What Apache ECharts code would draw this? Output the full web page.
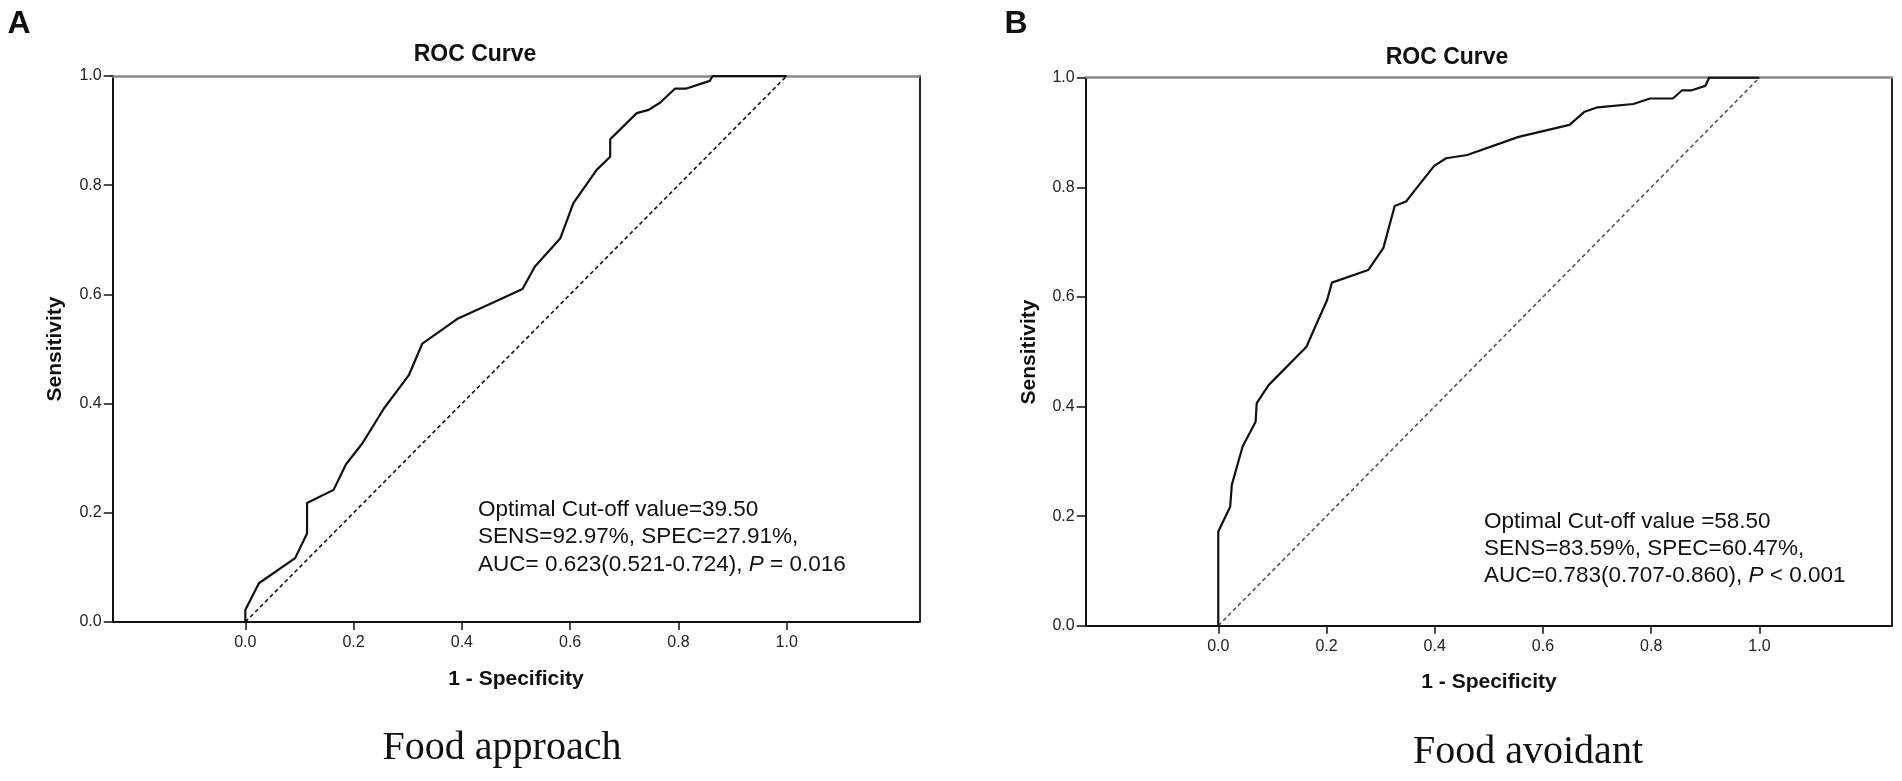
<!DOCTYPE html>
<html>
<head>
<meta charset="utf-8">
<title>ROC Curve</title>
<script src="https://cdn.jsdelivr.net/npm/echarts@6.0.0/dist/echarts.min.js"></script>
<style>
  html, body { margin: 0; padding: 0; background: #fff; }
  #main { width: 1902px; height: 781px; }
</style>
</head>
<body>
<div id="main"></div>
<script>
// A: Food approach (1 - specificity, sensitivity)
var approachFpr = [0, 0, 0.025, 0.092, 0.114, 0.114, 0.163, 0.186, 0.216, 0.256, 0.302, 0.327, 0.393, 0.469, 0.512, 0.535, 0.582, 0.606, 0.649, 0.674, 0.674, 0.723, 0.745, 0.766, 0.794, 0.815, 0.858, 0.863, 1.0];
var approachTpr = [0, 0.022, 0.071, 0.117, 0.162, 0.218, 0.242, 0.289, 0.327, 0.391, 0.452, 0.51, 0.556, 0.59, 0.61, 0.651, 0.703, 0.767, 0.828, 0.852, 0.884, 0.932, 0.938, 0.951, 0.977, 0.977, 0.991, 1.0, 1.0];

// B: Food avoidant
var avoidantFpr = [0, 0, 0.022, 0.025, 0.045, 0.069, 0.071, 0.093, 0.163, 0.182, 0.201, 0.21, 0.277, 0.305, 0.326, 0.347, 0.366, 0.399, 0.421, 0.46, 0.555, 0.649, 0.677, 0.701, 0.767, 0.798, 0.84, 0.857, 0.875, 0.9, 0.907, 1.0];
var avoidantTpr = [0, 0.172, 0.217, 0.257, 0.327, 0.372, 0.406, 0.439, 0.509, 0.552, 0.594, 0.626, 0.649, 0.689, 0.766, 0.774, 0.798, 0.839, 0.853, 0.859, 0.892, 0.914, 0.938, 0.946, 0.952, 0.962, 0.962, 0.977, 0.977, 0.985, 1.0, 1.0];

var referenceLine = [[0, 0], [1, 1]];
var tickValues = [0, 0.2, 0.4, 0.6, 0.8, 1.0];

var annotationA = ['Optimal Cut-off value=39.50', 'SENS=92.97%, SPEC=27.91%,', 'AUC= 0.623(0.521-0.724), {i|P} = 0.016'];
var annotationB = ['Optimal Cut-off value =58.50', 'SENS=83.59%, SPEC=60.47%,', 'AUC=0.783(0.707-0.860), {i|P} < 0.001'];

function zip(xs, ys) {
  return xs.map(function (x, i) { return [x, ys[i]]; });
}

var sans = '"Liberation Sans", Arial, sans-serif';
var serif = '"Liberation Serif", "Times New Roman", serif';
var ink = '#111';

function fmt(v) { return v.toFixed(1); }

function xAxes(g) {
  return [
    {
      type: 'value', gridIndex: g, position: 'bottom', min: -0.245, max: 1.245,
      axisLine: { onZero: false, lineStyle: { color: ink, width: 2 } },
      axisTick: { show: true, customValues: tickValues, length: 8, lineStyle: { color: ink, width: 1.5 } },
      axisLabel: { customValues: tickValues, formatter: fmt, margin: 13, fontSize: 16, fontFamily: sans, color: '#222' },
      splitLine: { show: false }
    },
    {
      type: 'value', gridIndex: g, position: 'top', min: -0.245, max: 1.245,
      axisLine: { onZero: false, lineStyle: { color: '#8a8a8a', width: 2.5 } },
      axisTick: { show: false }, axisLabel: { show: false }, splitLine: { show: false }
    }
  ];
}

function yAxes(g) {
  return [
    {
      type: 'value', gridIndex: g, position: 'left', min: 0, max: 1, interval: 0.2,
      axisLine: { show: true, onZero: false, lineStyle: { color: ink, width: 2 } },
      axisTick: { show: true, length: 9, lineStyle: { color: ink, width: 1.5 } },
      axisLabel: { formatter: fmt, margin: 11, fontSize: 16, fontFamily: sans, color: '#222' },
      splitLine: { show: false }
    },
    {
      type: 'value', gridIndex: g, position: 'right', min: 0, max: 1,
      axisLine: { show: true, onZero: false, lineStyle: { color: '#222', width: 2 } },
      axisTick: { show: false }, axisLabel: { show: false }, splitLine: { show: false }
    }
  ];
}

function text(str, x, y, size, opts) {
  opts = opts || {};
  return {
    type: 'text', x: x, y: y, rotation: opts.rotation || 0, z: 10,
    style: {
      text: str,
      textAlign: opts.align || 'center',
      textVerticalAlign: 'middle',
      fontSize: size,
      fontWeight: opts.weight || 'normal',
      fontFamily: opts.family || sans,
      fill: ink,
      rich: {
        i: { fontSize: size, fontStyle: 'italic', fontFamily: sans, fill: ink }
      }
    }
  };
}

var graphics = [
  text('A', 19, 24, 32, { weight: 'bold' }),
  text('B', 1016, 24, 32, { weight: 'bold' }),
  text('ROC Curve', 475, 55, 23, { weight: 'bold' }),
  text('ROC Curve', 1447, 58, 23, { weight: 'bold' }),
  text('Sensitivity', 55, 349, 21, { weight: 'bold', rotation: Math.PI / 2 }),
  text('Sensitivity', 1029, 352, 21, { weight: 'bold', rotation: Math.PI / 2 }),
  text('1 - Specificity', 516, 679, 21, { weight: 'bold' }),
  text('1 - Specificity', 1489, 682, 21, { weight: 'bold' }),
  text('Food approach', 502, 748, 40, { family: serif }),
  text('Food avoidant', 1528, 752, 40, { family: serif })
];
annotationA.forEach(function (line, i) {
  graphics.push(text(line, 478, 510 + i * 27.2, 22.5, { align: 'left' }));
});
annotationB.forEach(function (line, i) {
  graphics.push(text(line, 1484, 521.7 + i * 27.2, 22.5, { align: 'left' }));
});

var chart = echarts.init(document.getElementById('main'), null, { renderer: 'canvas' });

var option = {
  animation: false,
  backgroundColor: '#fff',
  grid: [
    { left: 112.7, top: 76, width: 806.6, height: 546, containLabel: false, outerBoundsMode: 'none' },
    { left: 1085.7, top: 77.7, width: 806.3, height: 548, containLabel: false, outerBoundsMode: 'none' }
  ],
  xAxis: xAxes(0).concat(xAxes(1)),
  yAxis: yAxes(0).concat(yAxes(1)),
  series: [
    {
      name: 'Reference A', type: 'line', xAxisIndex: 0, yAxisIndex: 0,
      data: referenceLine, symbol: 'none', silent: true,
      lineStyle: { color: ink, width: 1.6, type: [4, 3] }
    },
    {
      name: 'Food approach', type: 'line', xAxisIndex: 0, yAxisIndex: 0,
      data: zip(approachFpr, approachTpr), symbol: 'none',
      lineStyle: { color: ink, width: 2.2 }
    },
    {
      name: 'Reference B', type: 'line', xAxisIndex: 2, yAxisIndex: 2,
      data: referenceLine, symbol: 'none', silent: true,
      lineStyle: { color: '#555', width: 1.6, type: [4, 3] }
    },
    {
      name: 'Food avoidant', type: 'line', xAxisIndex: 2, yAxisIndex: 2,
      data: zip(avoidantFpr, avoidantTpr), symbol: 'none',
      lineStyle: { color: ink, width: 2.2 }
    }
  ],
  graphic: graphics
};

chart.setOption(option);
</script>
</body>
</html>
